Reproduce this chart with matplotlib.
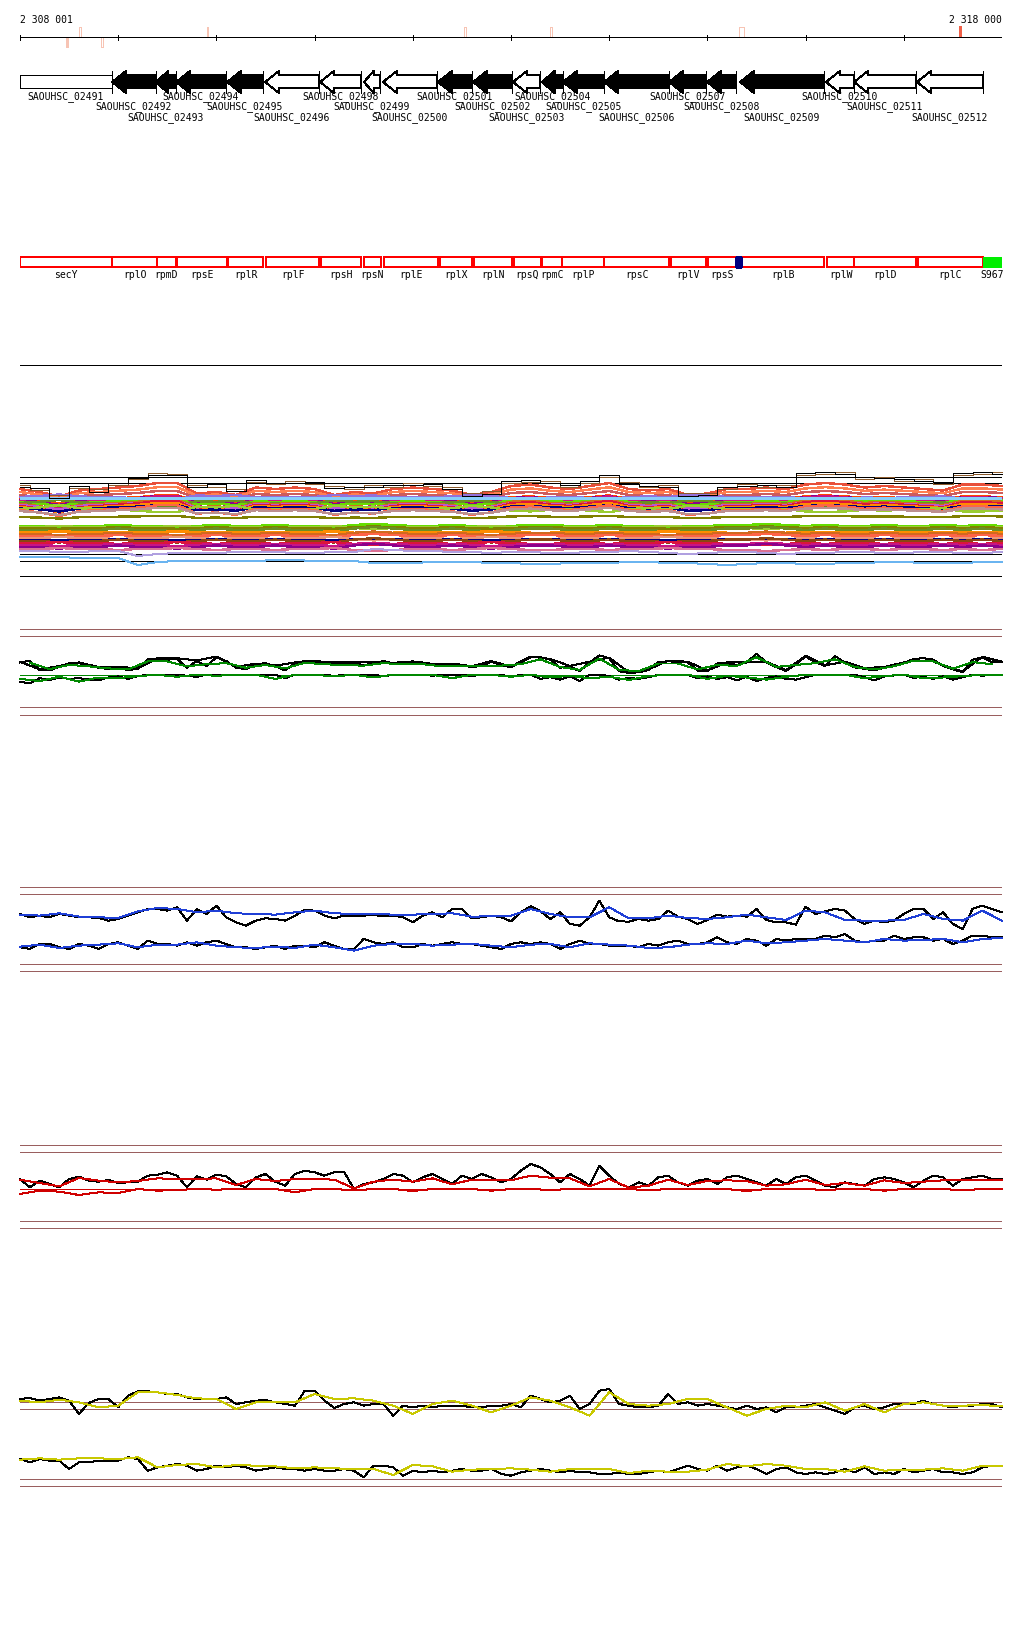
import numpy as np
import matplotlib.pyplot as plt
from matplotlib.patches import Polygon, Rectangle

plt.rcParams["font.family"] = ["DejaVu Sans Mono", "DejaVu Sans"]
plt.rcParams["lines.antialiased"] = False
plt.rcParams["patch.antialiased"] = False

# page geometry (pixels) and genomic window
W, H = 1024, 1640
LEFT, RIGHT = 20, 1002
X0, X1 = 2308000, 2318000
BP_PX = (X1 - X0) / (RIGHT - LEFT)
LW = 0.72   # one pixel

# colours
FRAME = "#9a5f5f"
GREEN = "#008800"
BLUE = "#1f3fd6"
RED = "#d00000"
YELLOW = "#c8c800"
SALMON = "#f7c4b4"
HIT = "#f06048"

# ruler
START_LABEL = "2 308 001"
END_LABEL = "2 318 000"
MARK_POS = [2308468, 2308601, 2308825, 2309904, 2312521, 2313397, 2315322]
MARK_LEN = [20, 25, 25, 15, 25, 25, 55]
MARK_SIDE = ["below", "above", "below", "above", "above", "above", "above"]
MARK_FILLED = [True, False, False, True, False, False, False]
HIT_POS = 2317562

# annotated genes
GENE_NAMES = ["SAOUHSC_02491", "SAOUHSC_02492", "SAOUHSC_02493", "SAOUHSC_02494",
              "SAOUHSC_02495", "SAOUHSC_02496", "SAOUHSC_02498", "SAOUHSC_02499",
              "SAOUHSC_02500", "SAOUHSC_02501", "SAOUHSC_02502", "SAOUHSC_02503",
              "SAOUHSC_02504", "SAOUHSC_02505", "SAOUHSC_02506", "SAOUHSC_02507",
              "SAOUHSC_02508", "SAOUHSC_02509", "SAOUHSC_02510", "SAOUHSC_02511",
              "SAOUHSC_02512"]
GENE_START = [2308000, 2308937, 2309385, 2309589, 2310108, 2310495, 2311055, 2311503,
              2311696, 2312256, 2312613, 2313020, 2313315, 2313529, 2313947, 2314609,
              2314996, 2315332, 2316207, 2316493, 2317134]
GENE_END = [2308937, 2309385, 2309589, 2310098, 2310475, 2311045, 2311469, 2311666,
            2312246, 2312603, 2313010, 2313295, 2313529, 2313947, 2314609, 2314986,
            2315291, 2316187, 2316493, 2317124, 2317806]
GENE_STRAND = ["."] + ["-"] * 20
GENE_FILLED = [False, True, True, True, True, False, False, False, False, True, True,
               False, True, True, True, True, True, True, False, False, False]

# operon / gene-name track
BOX_NAMES = ["secY", "rplO", "rpmD", "rpsE", "rplR", "rplF", "rpsH", "rpsN", "rplE",
             "rplX", "rplN", "rpsQ", "rpmC", "rplP", "rpsC", "rplV", "rpsS", "rplB",
             "rplW", "rplD", "rplC", "S967"]
BOX_START = [2308000, 2308940, 2309398, 2309602, 2310121, 2310508, 2311065, 2311503,
             2311707, 2312277, 2312623, 2313030, 2313319, 2313522, 2313950, 2314626,
             2315009, 2315345, 2316221, 2316496, 2317147, 2317803]
BOX_END = [2308940, 2309392, 2309585, 2310105, 2310477, 2311048, 2311469, 2311673,
           2312253, 2312600, 2313007, 2313302, 2313522, 2313950, 2314612, 2314986,
           2315288, 2316187, 2316496, 2317121, 2317803, 2318000]
BOX_KIND = ["open"] * 21 + ["green"]
SNP_START, SNP_END = 2315288, 2315345

# multi-sample coverage track
MC_BLACK = [12, 11, 1, 13, 7, 16, 21, 24, 24, 12, 15, 8, 19, 16, 16, 17, 11, 12, 12, 14,
            14, 15, 10, 3, 5, 18, 19, 16, 14, 18, 24, 15, 13, 12, 3, 4, 12, 13, 14, 12,
            26, 27, 25, 22, 21, 20, 18, 17, 26, 27, 25]
MC_BROWN = [14, 9, 4, 11, 10, 14, 20, 26, 25, 14, 12, 10, 17, 15, 18, 15, 13, 10, 14, 12,
            16, 13, 12, 6, 8, 16, 17, 18, 12, 16, 22, 17, 12, 14, 6, 6, 10, 15, 12, 14,
            24, 25, 27, 20, 22, 18, 20, 15, 24, 25, 27]
MC_SHAPE_A = [0, -2, -5, -1, 0, 1, 2, 4, 4, -3, -2, -4, 1, 0, 1, 0, -4, -2, -3, 0,
              1, 0, -1, -4, -2, 2, 3, 1, 0, 2, 4, 0, -1, 0, -4, -3, 0, 0, 1, 0,
              3, 4, 3, 1, 2, 1, 0, -1, 3, 3, 2]
MC_SHAPE_B = [0, 0, -1, 0, 0, 1, 0, 0, -1, 0, 1, 0, 0, 1, 0, 0, -1, 1, 2, 1,
              0, 0, 1, 0, -1, 0, 1, 1, 0, 0, 1, 0, 0, -1, 0, 0, 1, 1, 2, 1,
              0, 1, 0, 0, 1, 0, 0, 1, 0, 1, 0]
MC_UP_LEVEL = [10, 7, 4, 2, 0, -1, -2, -3, -4, -5, -6, -7, -8, -9, -10, -11, -12, -18]
MC_UP_GAIN = [1.5, 1.2, 1.0, -0.5, 0.9, 1.0, 1.2, 0.8, -0.6, 1.1, 0.9, 1.3, 1.0, 0.7,
              -0.8, 1.2, 0.8, 0.3]
MC_UP_COLOR = ["#e8503a", "#ff7f50", "#cd5c5c", "#9370db", "#ff4500", "#8b008b",
               "#c71585", "#66dd00", "#6b8e23", "#d2691e", "#ba55d3", "#dc143c",
               "#ff8c00", "#000080", "#9acd32", "#ff6347", "#bc8f8f", "#808000"]
MC_LO_LEVEL = [-27, -28, -29, -31, -33, -35, -37, -39, -41, -42, -44, -46, -48, -50]
MC_LO_GAIN = [1.0, -1.0, 0.8, 1.5, -0.7, 1.2, 1.0, -1.2, 0.6, 1.4, -0.9, 1.1, 1.6, -1.0]
MC_LO_COLOR = ["#66dd00", "#9acd32", "#808000", "#6b8e23", "#ff8c00", "#d2691e",
               "#ff6347", "#e9967a", "#000080", "#8b4513", "#dc143c", "#c71585",
               "#8b008b", "#db7093"]
MC_LB1 = [-58, -58, -58, -59, -59, -59, -66, -63, -62, -62, -62, -62, -62, -61, -61, -62,
          -62, -62, -64, -64, -64, -63, -63, -63, -64, -64, -65, -65, -64, -64, -64, -63,
          -63, -64, -64, -65, -66, -65, -64, -64, -65, -65, -64, -64, -63, -63, -64, -64,
          -64, -63, -63]
MC_LB2 = [-52, -52, -53, -53, -52, -52, -57, -55, -54, -54, -54, -53, -53, -53, -54, -54,
          -53, -53, -50, -51, -52, -52, -53, -53, -54, -53, -53, -54, -54, -53, -53, -52,
          -53, -54, -55, -54, -53, -53, -54, -55, -54, -54, -53, -53, -54, -54, -53, -53,
          -54, -54, -53]

# green track
GREEN_UP_B = [35, 40, 13, 12, 23, 33, 33, 27, 20, 16, 20, 13, 17, 44, 45, 43, 45, 20, 39, 25,
              50, 39, 20, 16, 30, 33, 24, 12, 33, 39, 37, 34, 33, 30, 34, 27, 33, 39, 32, 34,
              36, 35, 29, 26, 30, 26, 22, 25, 37, 28, 21, 35, 50, 50, 43, 20, 23, 10, 35, 55,
              47, 10, 5, 7, 13, 37, 38, 37, 35, 12, 10, 32, 33, 28, 35, 60, 35, 22, 11, 30,
              52, 35, 25, 53, 35, 21, 17, 12, 20, 25, 33, 45, 47, 43, 25, 15, 7, 43, 49, 35, 35]
GREEN_UP_B2 = [37, 15, 25, 35, 22, 22, 19, 47, 47, 41, 52, 22, 32, 26, 35, 39, 35, 36, 35, 34,
               38, 31, 32, 24, 39, 23, 52, 45, 25, 37, 49, 7, 15, 40, 37, 12, 35, 37, 37, 13,
               54, 27, 37, 19, 22, 35, 49, 27, 9, 51, 37]
GREEN_UP_G = [34, 16, 28, 24, 18, 15, 38, 38, 24, 30, 33, 20, 28, 18, 34, 30, 27, 26, 33, 30,
              30, 24, 25, 24, 26, 30, 44, 22, 14, 46, 14, 10, 32, 32, 15, 28, 25, 50, 22, 28,
              33, 44, 22, 15, 24, 40, 38, 17, 36, 30]
GREEN_LOW_B = [-20, -25, -10, -15, -8, -12, -10, -14, -16, -8, -5, -12, -4, 0, -2, 0, 0, -3,
               -6, 0, 0, 0, 0, -2, 0, 0, 0, -10, 0, 0, 0, 0, -4, 0, 0, 0, 0, -5, 0, 0, 0, 0,
               -3, 0, 0, 0, -4, 0, 0, 0, -7, 0, 0, -12, -7, -14, -5, -18, 0, 0, -4, -14, -9,
               -12, -7, 0, 0, 0, 0, -10, -5, -12, -7, -16, -6, -18, -9, -5, -12, -14, -7, 0,
               0, 0, 0, 0, -7, -16, -5, -2, 0, -9, -6, -12, -5, -14, -7, 0, -3, 0, 0]
GREEN_LOW_G = [-12, -18, -6, -20, -8, -10, -4, 0, -6, 0, -3, 0, 0, -12, 0, 0, -5, 0, -8, 0,
               0, 0, -10, 0, 0, -6, 0, -8, -3, -10, -6, -15, -4, 0, 0, -12, -3, -8, -14, -6,
               0, 0, 0, -10, -4, 0, -10, -8, -4, 0, 0]

# blue track
BLUE_UP_B = [40, 30, 35, 30, 40, 35, 30, 30, 28, 20, 25, 35, 45, 55, 55, 50, 60, 20, 55, 40,
             65, 30, 15, 5, 20, 27, 25, 20, 35, 52, 50, 35, 27, 35, 35, 35, 37, 33, 35, 30,
             15, 35, 45, 30, 55, 55, 27, 30, 35, 30, 18, 45, 63, 48, 25, 45, 10, 5, 30, 80,
             30, 18, 17, 25, 20, 25, 50, 32, 25, 10, 22, 38, 32, 35, 32, 55, 22, 15, 15, 8,
             62, 40, 48, 55, 50, 25, 10, 20, 15, 20, 40, 55, 55, 25, 45, 10, -5, 55, 65, 55, 45]
BLUE_UP_C = [38, 35, 42, 32, 30, 28, 48, 58, 55, 45, 50, 42, 40, 38, 45, 50, 42, 40, 40, 38,
             38, 40, 42, 32, 33, 35, 55, 40, 30, 30, 60, 27, 27, 35, 28, 25, 30, 38, 30, 22,
             50, 45, 22, 20, 20, 22, 40, 25, 20, 50, 20]
BLUE_LOW_B = [30, 25, 40, 40, 30, 25, 40, 35, 25, 40, 45, 35, 25, 50, 40, 40, 35, 45, 35, 45,
              50, 40, 30, 30, 25, 30, 35, 25, 35, 35, 30, 45, 35, 25, 25, 55, 45, 40, 45, 30,
              30, 40, 35, 40, 45, 40, 40, 35, 30, 25, 40, 45, 40, 45, 40, 25, 40, 50, 40, 40,
              35, 35, 35, 30, 40, 35, 45, 50, 40, 40, 45, 60, 45, 40, 55, 50, 35, 55, 50, 55,
              55, 55, 65, 60, 70, 50, 45, 50, 50, 65, 55, 60, 60, 50, 55, 40, 50, 65, 65, 60, 60]
BLUE_LOW_C = [32, 38, 28, 35, 38, 42, 30, 38, 38, 45, 35, 30, 28, 32, 28, 38, 30, 20, 35, 40,
              40, 35, 38, 40, 35, 30, 38, 40, 30, 42, 38, 35, 28, 30, 38, 42, 40, 50, 42, 45,
              50, 55, 50, 45, 55, 50, 52, 55, 45, 55, 58]

# red track
RED_B = [30, 5, 25, 15, 5, 30, 37, 25, 22, 27, 18, 20, 22, 40, 43, 50, 40, 5, 38, 28,
         43, 38, 15, 5, 35, 45, 22, 10, 45, 55, 50, 40, 50, 52, 0, 15, 20, 30, 45, 40,
         20, 35, 45, 30, 15, 40, 30, 45, 35, 20, 30, 55, 75, 65, 45, 20, 45, 30, 10, 70,
         40, 15, 5, 20, 10, 35, 40, 20, 10, 25, 30, 15, 35, 40, 30, 20, 10, 30, 15, 35,
         40, 25, 10, 5, 20, 15, 10, 30, 35, 30, 20, 5, 25, 40, 35, 10, 30, 35, 40, 30, 30]
RED_R = [28, 18, 8, 33, 25, 20, 24, 32, 30, 30, 32, 12, 30, 24, 30, 30, 28, 2, 22, 28,
         22, 32, 14, 28, 28, 26, 40, 34, 32, 8, 30, 4, 10, 28, 12, 24, 26, 24, 10, 14,
         28, 12, 18, 10, 26, 18, 22, 26, 26, 28, 26]
RED_LOW = [-15, -5, -8, -18, -10, -12, 0, -5, -3, 0, -2, 0, 0, 0, -10, 0, 0, -4, 0, 0,
           -6, 0, 0, 0, -5, 0, 0, -3, 0, 0, 0, 0, -4, 0, 0, 0, 0, -6, 0, 0,
           0, -3, 0, 0, -5, 0, 0, 0, -4, 0, 0]

# yellow track
YEL_UP_B = [30, 33, 25, 30, 35, 25, -15, 18, 30, 30, 5, 40, 53, 53, 50, 45, 45, 35, 30, 30,
            30, 35, 15, 20, 25, 27, 20, 15, 10, 55, 55, 25, 3, 15, 20, 10, 15, 15, -20, 10,
            5, 10, 5, 10, 10, 10, 5, 5, 10, 10, 15, 5, 40, 30, 20, 25, 40, 0, 15, 55,
            60, 15, 10, 5, 5, 10, 45, 15, 20, 10, 15, 10, 5, 0, 10, 0, 5, -10, 5, 5,
            10, 15, 5, -5, -15, 5, 10, 0, 5, 15, 15, 15, 25, 15, 10, 5, 10, 10, 15, 15, 5]
YEL_UP_Y = [25, 20, 28, 20, 5, 10, 50, 50, 42, 32, 30, 0, 20, 22, 20, 45, 30, 32, 25, 10,
            -15, 15, 25, 10, -10, 10, 35, 25, 5, -20, 50, 15, 10, 15, 30, 30, 5, -20, 0, 10,
            5, 20, -5, 15, -10, 15, 20, 10, 10, 12, 8]
YEL_LOW_B = [60, 50, 60, 55, 55, 30, 50, 50, 55, 55, 55, 65, 60, 25, 35, 40, 45, 40, 25, 30,
             40, 35, 40, 35, 25, 30, 35, 30, 30, 25, 30, 25, 25, 30, 25, 5, 40, 40, 35, 10,
             25, 20, 25, 20, 25, 30, 25, 25, 30, 15, 10, 20, 25, 30, 25, 20, 25, 20, 20, 15,
             15, 20, 15, 15, 20, 25, 20, 30, 40, 30, 25, 40, 25, 35, 40, 30, 15, 30, 35, 20,
             15, 20, 15, 20, 30, 20, 35, 15, 20, 15, 30, 20, 25, 30, 20, 20, 15, 20, 35, 40, 40]
YEL_LOW_Y = [58, 62, 58, 62, 62, 60, 65, 35, 42, 45, 35, 42, 40, 38, 32, 35, 32, 30, 30, 12,
             42, 38, 22, 28, 30, 32, 28, 22, 30, 30, 30, 18, 25, 22, 22, 28, 45, 38, 45, 40,
             30, 30, 22, 38, 25, 28, 28, 32, 25, 40, 40]

# track frame rows (pixels)
FRAME_ROWS = [630.3, 637.3, 708.3, 715.7, 888.3, 895.3, 965.3, 972.3,
              1145.7, 1152.7, 1222.3, 1229.3, 1403.3, 1410, 1480, 1487.3]
MC_ROWS = [478, 484, 555, 562, 577]


def band(top, bottom, base, unit=1.0):
    # axes over pixel rows top..bottom, value 0 on row `base`, 1 unit = `unit` px
    ax = fig.add_axes([LEFT / W, 1 - bottom / H, (RIGHT - LEFT) / W, (bottom - top) / H])
    ax.set_xlim(X0, X1)
    ax.set_ylim((base - bottom) / unit, (base - top) / unit)
    ax.axis("off")
    return ax


def trace(ax, vals, color, lw=LW, pad=0, **kw):
    x = np.linspace(X0 + pad, X1 - pad, len(vals))
    ax.plot(x, vals, color=color, lw=lw, clip_on=False, **kw)


fig = plt.figure(figsize=(W / 100, H / 100), dpi=100)
page = fig.add_axes([LEFT / W, 0, (RIGHT - LEFT) / W, 1])
page.set_xlim(X0, X1)
page.set_ylim(H, 0)
page.axis("off")

# ruler
page.hlines(38, X0, X1, color="black", lw=LW)
page.vlines(np.arange(X0, X1 + 1, 1000), 35.5, 40.5, color="black", lw=LW)
for pos, ln, side, filled in zip(MARK_POS, MARK_LEN, MARK_SIDE, MARK_FILLED):
    y0 = 28 if side == "above" else 38
    page.add_patch(Rectangle((pos, y0), ln, 10, fc=SALMON if filled else "white",
                             ec=SALMON, lw=LW))
page.add_patch(Rectangle((HIT_POS, 27), 20, 11, fc=HIT, ec=HIT, lw=0.5))
page.text(X0, 20, START_LABEL, ha="left", va="center", fontsize=7)
page.text(X1, 20, END_LABEL, ha="right", va="center", fontsize=7)

# gene arrows
for i, (name, s, e) in enumerate(zip(GENE_NAMES, GENE_START, GENE_END)):
    fc = "black" if GENE_FILLED[i] else "white"
    if GENE_STRAND[i] == "-":
        hl = min(14 * BP_PX, 0.6 * (e - s))
        pts = [(s, 83), (s + hl, 72), (s + hl, 76), (e, 76), (e, 89), (s + hl, 89), (s + hl, 94)]
    else:
        pts = [(s, 76), (e, 76), (e, 89), (s, 89)]
    page.add_patch(Polygon(pts, closed=True, fc=fc, ec="black", lw=LW))
    page.vlines(e, 72, 94, color="black", lw=LW)
    page.text((s + e) / 2, [97, 107, 118][i % 3], name, ha="center", va="center", fontsize=7)

# named features
for name, s, e, kind in zip(BOX_NAMES, BOX_START, BOX_END, BOX_KIND):
    if kind == "green":
        page.add_patch(Rectangle((s, 258), e - s, 10, fc="#00ee00", ec="#00ee00", lw=LW))
    else:
        page.add_patch(Rectangle((s, 258), e - s, 10, fill=False, ec="#ff0000", lw=1.2))
    page.text((s + e) / 2, 275, name, ha="center", va="center", fontsize=7)
page.add_patch(Rectangle((SNP_START, 258), SNP_END - SNP_START, 10, fc="#000080", ec="#000080"))

page.hlines(366, X0, X1, color="black", lw=LW)
page.hlines(FRAME_ROWS, X0, X1, color=FRAME, lw=LW)

# multi-sample track
mc = band(470, 580, 500)
for r in MC_ROWS:
    mc.axhline(500 - r, color="black", lw=LW)
for lev, g, c in zip(MC_UP_LEVEL, MC_UP_GAIN, MC_UP_COLOR):
    trace(mc, lev + g * np.array(MC_SHAPE_A), c, lw=1.0)
for lev, g, c in zip(MC_LO_LEVEL, MC_LO_GAIN, MC_LO_COLOR):
    trace(mc, lev + g * np.array(MC_SHAPE_B), c, lw=1.0)
mc.axhline(1, color="#87cefa", lw=1.0)
trace(mc, MC_LB2, "#b0a0e0")
trace(mc, MC_LB1, "#6ab4f0")
trace(mc, MC_BROWN, "#8b5a2b", drawstyle="steps-mid")
trace(mc, MC_BLACK, "black", drawstyle="steps-mid")

# green track
gr = band(640, 700, 675.7, 0.35)
gr.axhline(0, color=GREEN, lw=LW)
trace(gr, GREEN_UP_B, "black")
trace(gr, GREEN_UP_B2, "black")
trace(gr, GREEN_UP_G, GREEN, pad=100)
trace(gr, GREEN_LOW_B, "black")
trace(gr, GREEN_LOW_G, GREEN)

# blue track
bu = band(895, 935, 928.3, 1 / 3)
trace(bu, BLUE_UP_B, "black")
trace(bu, BLUE_UP_C, BLUE)
bl = band(930, 965, 958.3, 1 / 3)
trace(bl, BLUE_LOW_B, "black")
trace(bl, BLUE_LOW_C, BLUE)

# red track
rd = band(1155, 1220, 1190, 1 / 3)
rd.axhline(0, color=RED, lw=LW)
trace(rd, RED_B, "black")
trace(rd, RED_R, RED)
trace(rd, RED_LOW, RED)

# yellow track
yu = band(1385, 1420, 1410, 1 / 3)
trace(yu, YEL_UP_B, "black")
trace(yu, YEL_UP_Y, YELLOW)
yl = band(1450, 1485, 1480, 1 / 3)
trace(yl, YEL_LOW_B, "black")
trace(yl, YEL_LOW_Y, YELLOW)

fig.savefig("out.png", dpi=100)
